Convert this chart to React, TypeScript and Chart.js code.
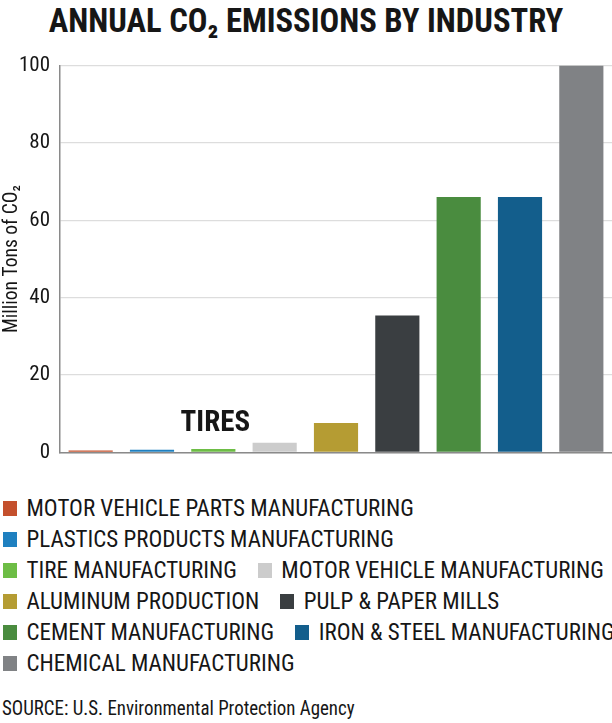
import React, { useEffect, useRef } from "react";
import { Chart, registerables } from "chart.js";

Chart.register(...registerables);

const TITLE = "ANNUAL CO₂ EMISSIONS BY INDUSTRY";
const Y_TITLE = "Million Tons of CO₂";
const SOURCE = "SOURCE: U.S. Environmental Protection Agency";
const ANNOTATION = "TIRES";
const ANNOTATED_INDEX = 2;

const CATEGORIES = [
  "MOTOR VEHICLE PARTS MANUFACTURING",
  "PLASTICS PRODUCTS MANUFACTURING",
  "TIRE MANUFACTURING",
  "MOTOR VEHICLE MANUFACTURING",
  "ALUMINUM PRODUCTION",
  "PULP & PAPER MILLS",
  "CEMENT MANUFACTURING",
  "IRON & STEEL MANUFACTURING",
  "CHEMICAL MANUFACTURING",
];
const EMISSIONS = [0.5, 0.7, 0.9, 2.5, 7.6, 35.4, 66, 66, 100];
const COLORS = [
  "#c4502d",
  "#1f80c0",
  "#6dbd45",
  "#cccccc",
  "#b59c33",
  "#3a3e41",
  "#4a8c3f",
  "#135e8c",
  "#808285",
];
const Y_TICKS = [0, 20, 40, 60, 80, 100];
const LEGEND_ROWS = [[0], [1], [2, 3], [4, 5], [6, 7], [8]];

const FAMILY = "'Roboto Condensed', Roboto, 'Noto Sans', sans-serif";
const TEXT = "#161616";

const annotationPlugin = {
  id: "barAnnotation",
  afterDatasetsDraw(chart: any) {
    const { ctx, scales } = chart;
    const px = scales.x.getPixelForValue(ANNOTATED_INDEX) + 2;
    const py = scales.y.getPixelForValue(EMISSIONS[ANNOTATED_INDEX]) - 17.5;
    ctx.save();
    ctx.translate(px, py);
    ctx.font = `bold 29px ${FAMILY}`;
    ctx.fillStyle = TEXT;
    ctx.textAlign = "center";
    ctx.textBaseline = "alphabetic";
    ctx.fillText(ANNOTATION, 0, 0);
    ctx.restore();
  },
};

const TITLE_SCALE = 0.96;
const SOURCE_SCALE = 0.945;

export default function App() {
  const canvasRef = useRef<HTMLCanvasElement>(null);

  useEffect(() => {
    const chart = new Chart(canvasRef.current as HTMLCanvasElement, {
      type: "bar",
      data: {
        labels: CATEGORIES,
        datasets: [
          {
            data: EMISSIONS,
            backgroundColor: COLORS,
            barPercentage: 0.72,
            categoryPercentage: 1,
            borderWidth: 0,
          },
        ],
      },
      options: {
        animation: false,
        responsive: true,
        maintainAspectRatio: false,
        layout: { padding: 0 },
        plugins: {
          legend: { display: false },
          tooltip: { enabled: false },
        },
        scales: {
          x: {
            ticks: { display: false },
            grid: { display: false, drawTicks: false },
            border: { display: true, color: "#8a8a8a", width: 1.5 },
          },
          y: {
            min: 0,
            max: 100,
            afterFit: (s: any) => {
              s.width = 60;
            },
            afterBuildTicks: (s: any) => {
              s.ticks = Y_TICKS.map((v) => ({ value: v }));
            },
            ticks: {
              padding: 10,
              color: TEXT,
              font: { family: FAMILY, size: 21 },
            },
            grid: { color: "#dddddd", drawTicks: false, lineWidth: 1.2 },
            border: { color: "#8a8a8a", width: 1.5 },
            title: {
              display: true,
              text: Y_TITLE,
              color: TEXT,
              font: { family: FAMILY, size: 19.5 },
              padding: { top: 0, bottom: 0 },
            },
          },
        },
      },
      plugins: [annotationPlugin],
    });
    return () => chart.destroy();
  }, []);

  return (
    <div
      style={{
        position: "absolute",
        left: 0,
        top: 0,
        width: 612,
        height: 723,
        background: "#fff",
        fontFamily: FAMILY,
        color: TEXT,
        overflow: "hidden",
      }}
    >
      <div
        style={{
          position: "absolute",
          top: -0.5,
          left: 0,
          width: 612 / TITLE_SCALE,
          transform: `scaleX(${TITLE_SCALE})`,
          transformOrigin: "0 0",
          textAlign: "center",
          fontSize: 34,
          lineHeight: "40px",
          fontWeight: "bold",
          whiteSpace: "nowrap",
        }}
      >
        {TITLE}
      </div>
      <div style={{ position: "absolute", top: 43, left: 0, width: 612, height: 432 }}>
        <canvas ref={canvasRef} />
      </div>
      <div style={{ position: "absolute", top: 493, left: 3, width: 660 }}>
        {LEGEND_ROWS.map((row, r) => (
          <div key={r} style={{ display: "flex", height: 31 }}>
            {row.map((i) => (
              <div
                key={i}
                style={{
                  display: "flex",
                  alignItems: "center",
                  height: 31,
                  marginRight: 21,
                  fontSize: 23,
                  lineHeight: "31px",
                  whiteSpace: "nowrap",
                }}
              >
                <span
                  style={{
                    display: "inline-block",
                    width: 14,
                    height: 15,
                    background: COLORS[i],
                    marginRight: 9.5,
                  }}
                />
                <span>{CATEGORIES[i]}</span>
              </div>
            ))}
          </div>
        ))}
      </div>
      <div
        style={{
          position: "absolute",
          top: 695,
          left: 2,
          transform: `scaleX(${SOURCE_SCALE})`,
          transformOrigin: "0 0",
          fontSize: 20,
          lineHeight: "26px",
          whiteSpace: "nowrap",
        }}
      >
        {SOURCE}
      </div>
    </div>
  );
}
